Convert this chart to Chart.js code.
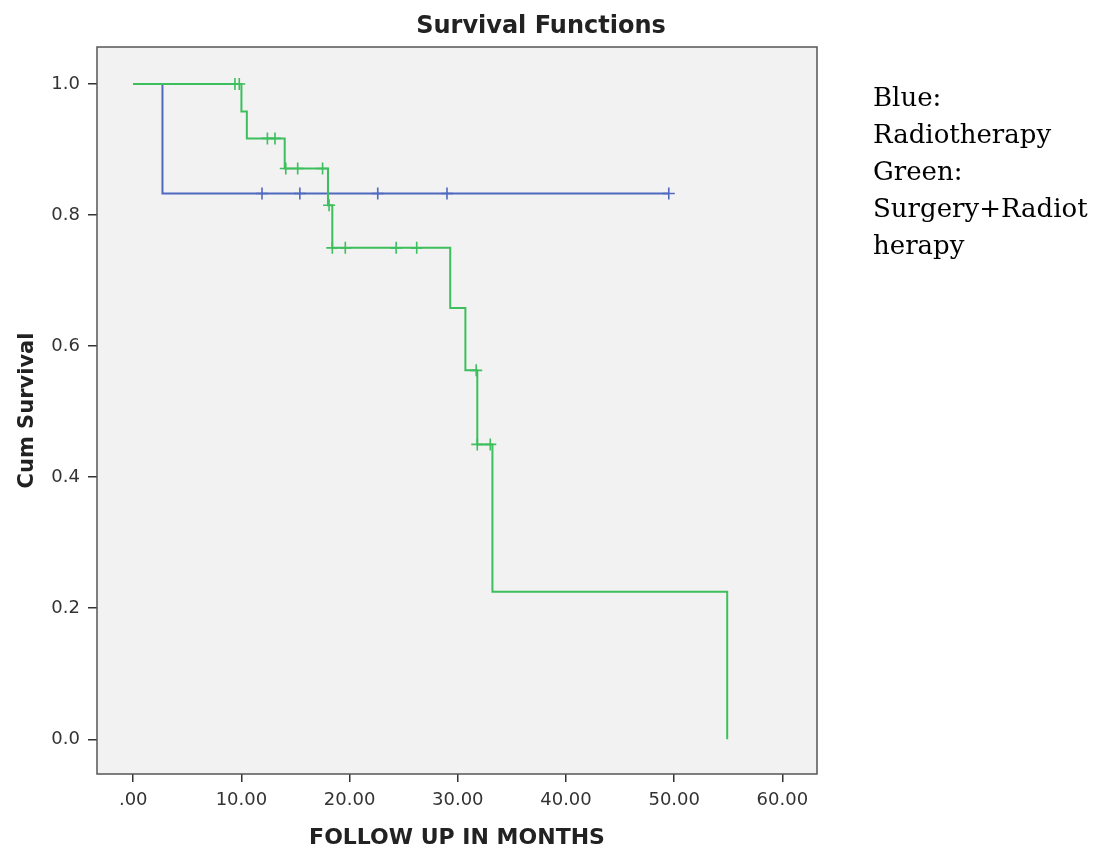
<!DOCTYPE html>
<html lang="en">

<head>
    <meta charset="UTF-8">
    <title>Survival Functions</title>
    <script src="https://cdn.jsdelivr.net/npm/chart.js"></script>
    <style>
        body {
            margin: 0;
            background: #fff;
        }

        .grafico {
            position: absolute;
            left: 0;
            top: 0;
            width: 1082px;
            height: 852px;
        }

        .nota {
            position: absolute;
            left: 873px;
            top: 79px;
            font-family: "DejaVu Serif", serif;
            font-size: 26px;
            line-height: 37px;
            color: #000;
        }
    </style>
</head>

<body>
    <div class="grafico">
        <canvas id="chart"></canvas>
    </div>
    <div class="nota">Blue:<br>Radiotherapy<br>Green:<br>Surgery+Radiot<br>herapy</div>

    <script>
        // Radiotherapy: Kaplan-Meier steps and censored cases
        const radioTimes = [0, 2.7, 49.5];
        const radioSurv = [1.0, 0.833, 0.833];
        const radioCensTimes = [11.9, 15.4, 22.6, 29.0, 49.5];
        const radioCensSurv = [0.833, 0.833, 0.833, 0.833, 0.833];

        // Surgery + Radiotherapy
        const surgTimes = [0, 10.0, 10.5, 14.0, 18.0, 18.4, 29.3, 30.7, 31.8, 33.2, 54.9];
        const surgSurv = [1.0, 0.958, 0.917, 0.871, 0.815, 0.750, 0.658, 0.563, 0.450, 0.225, 0.0];
        const surgCensTimes = [9.4, 9.8, 12.4, 13.1, 14.1, 15.2, 17.5, 18.1, 18.4, 19.6, 24.3, 26.2, 31.7, 31.8, 33.0];
        const surgCensSurv = [1.0, 1.0, 0.917, 0.917, 0.871, 0.871, 0.871, 0.815, 0.750, 0.750, 0.750, 0.750, 0.563, 0.450, 0.450];

        // Ticks
        const xTicks = [0, 10, 20, 30, 40, 50, 60];
        const yTicks = [0.0, 0.2, 0.4, 0.6, 0.8, 1.0];

        const titulo = 'Survival Functions';
        const azul = '#5069c0';
        const verde = '#3cbf5c';

        function puntos(xs, ys) {
            return xs.map((x, i) => ({ x: x, y: ys[i] }));
        }

        // Fondo gris del area, marco y titulo
        const marco = {
            id: 'marco',
            beforeDraw(chart) {
                const a = chart.chartArea;
                const ctx = chart.ctx;
                ctx.save();
                ctx.fillStyle = '#f2f2f2';
                ctx.fillRect(a.left, a.top, a.right - a.left, a.bottom - a.top);
                ctx.restore();
            },
            afterDraw(chart) {
                const a = chart.chartArea;
                const ctx = chart.ctx;
                ctx.save();
                ctx.strokeStyle = '#555';
                ctx.lineWidth = 1.5;
                ctx.strokeRect(a.left, a.top, a.right - a.left, a.bottom - a.top);
                ctx.fillStyle = '#222';
                ctx.font = 'bold 24px "DejaVu Sans"';
                ctx.textAlign = 'center';
                ctx.textBaseline = 'middle';
                ctx.fillText(titulo, 541, 27);
                ctx.restore();
            }
        };

        const ctx = document.getElementById('chart').getContext('2d');
        const chart = new Chart(ctx, {
            type: 'line',
            data: {
                datasets: [
                    {
                        label: 'Surgery+Radiotherapy',
                        data: puntos(surgTimes, surgSurv),
                        borderColor: verde,
                        borderWidth: 2,
                        stepped: 'before',
                        pointRadius: 0,
                        fill: false
                    },
                    {
                        label: 'Surgery+Radiotherapy-censored',
                        data: puntos(surgCensTimes, surgCensSurv),
                        showLine: false,
                        pointStyle: 'cross',
                        pointRadius: 6,
                        pointBorderWidth: 1.6,
                        borderColor: verde,
                        pointBorderColor: verde
                    },
                    {
                        label: 'Radiotherapy',
                        data: puntos(radioTimes, radioSurv),
                        borderColor: azul,
                        borderWidth: 2,
                        stepped: 'before',
                        pointRadius: 0,
                        fill: false
                    },
                    {
                        label: 'Radiotherapy-censored',
                        data: puntos(radioCensTimes, radioCensSurv),
                        showLine: false,
                        pointStyle: 'cross',
                        pointRadius: 6,
                        pointBorderWidth: 1.6,
                        borderColor: azul,
                        pointBorderColor: azul
                    }
                ]
            },
            options: {
                responsive: true,
                maintainAspectRatio: false,
                animation: false,
                layout: {
                    padding: { left: 0, right: 265, top: 47, bottom: 0 }
                },
                plugins: {
                    legend: { display: false },
                    tooltip: { enabled: false },
                    title: { display: false }
                },
                scales: {
                    x: {
                        type: 'linear',
                        min: -3.35,
                        max: 63.2,
                        afterBuildTicks: s => { s.ticks = xTicks.map(v => ({ value: v })); },
                        afterFit: s => { s.height = 78; },
                        grid: {
                            drawOnChartArea: false,
                            drawTicks: true,
                            tickLength: 8,
                            color: '#333',
                            lineWidth: 1.5
                        },
                        border: { display: false },
                        ticks: {
                            color: '#333',
                            padding: 8,
                            font: { family: 'DejaVu Sans', size: 18 },
                            callback: v => v === 0 ? '.00' : v.toFixed(2)
                        },
                        title: {
                            display: true,
                            text: 'FOLLOW UP IN MONTHS',
                            color: '#222',
                            font: { family: 'DejaVu Sans', size: 22, weight: 'bold' },
                            padding: { top: 0, bottom: 1 }
                        }
                    },
                    y: {
                        min: -0.053,
                        max: 1.0565,
                        afterBuildTicks: s => { s.ticks = yTicks.map(v => ({ value: v })); },
                        afterFit: s => { s.width = 97; },
                        grid: {
                            drawOnChartArea: false,
                            drawTicks: true,
                            tickLength: 9,
                            color: '#333',
                            lineWidth: 1.5
                        },
                        border: { display: false },
                        ticks: {
                            color: '#333',
                            padding: 8,
                            font: { family: 'DejaVu Sans', size: 18 },
                            callback: v => v.toFixed(1)
                        },
                        title: {
                            display: true,
                            text: 'Cum Survival',
                            color: '#222',
                            font: { family: 'DejaVu Sans', size: 21, weight: 'bold' },
                            padding: { top: 15, bottom: 0 }
                        }
                    }
                }
            },
            plugins: [marco]
        });
    </script>
</body>

</html>
